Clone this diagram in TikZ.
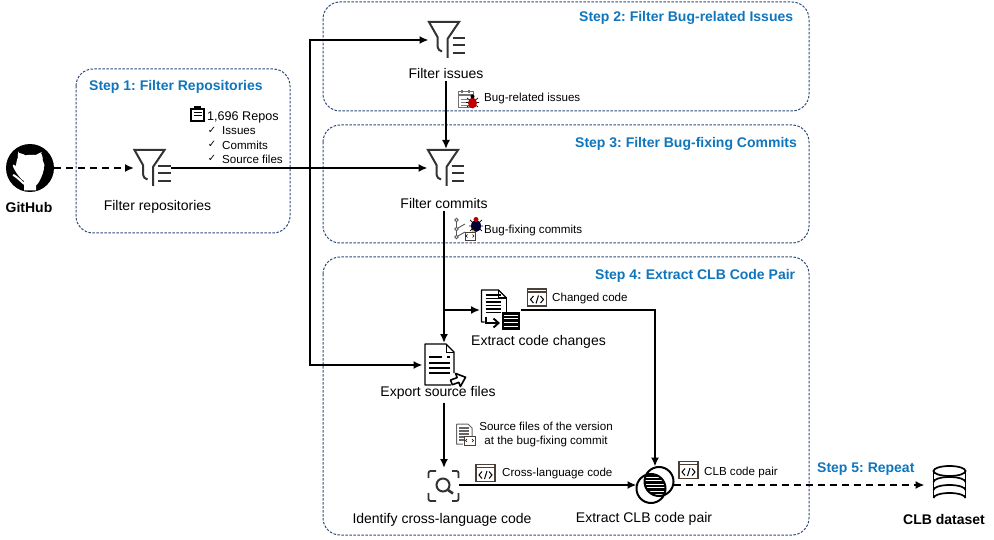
\documentclass[tikz,border=0pt]{standalone}
\usepackage{fontspec}
\setmainfont{Liberation Sans}
\newfontfamily\symfont{DejaVu Sans}
\usetikzlibrary{arrows.meta}
\definecolor{stepblue}{HTML}{0F75BD}
\definecolor{panelblue}{HTML}{2F4B7C}
\definecolor{icongray}{HTML}{333333}
\definecolor{codebrown}{HTML}{4A4038}
\frenchspacing
\tikzset{
	panel/.style={draw=panelblue, line width=1pt, dash pattern=on 2.5pt off 1.5pt, rounded corners=17pt},
	steptitle/.style={text=stepblue, font=\fontsize{14}{16}\selectfont\bfseries, inner sep=0pt, anchor=west},
	biglabel/.style={font=\fontsize{14}{16}\selectfont, inner sep=0pt, outer sep=3pt},
	smalllabel/.style={font=\fontsize{11.6}{14}\selectfont, inner sep=0pt, anchor=west, align=center},
	boldlabel/.style={font=\fontsize{14}{16}\selectfont\bfseries, inner sep=0pt},
	iconbox/.style={inner sep=0pt, outer sep=0pt},
	flow/.style={draw=black, line width=1.7pt, -{Latex[length=9pt,width=8pt]}},
	dashflow/.style={flow, dash pattern=on 7pt off 5pt},
	pics/filtericon/.style={code={
		\draw[icongray, line width=2pt] (-9.5,7) -- (-9.5,-3) -- (-18,-18) -- (12,-18) -- (0.5,-1) -- (0.5,18);
		\draw[icongray, line width=2pt] (-9.5,7) .. controls (-9.5,9) and (-7,11) .. (-5,11.5);
		\foreach \ly in {-1.5,5,13.5}
			\draw[icongray, line width=2pt] (5.5,\ly) -- (18,\ly);
	}},
	pics/codewindow/.style={code={
		\draw[codebrown, line width=1.1pt] (-9.5,-8.5) rectangle (9.5,8.5);
		\draw[codebrown, line width=1.8pt] (-9.5,-5.5) -- (9.5,-5.5);
		\draw[black, line width=1pt] (-3.5,-1.5) -- (-6.5,2) -- (-3.5,5.5) (-1,6) -- (1.5,-2) (3.5,-1.5) -- (6.5,2) -- (3.5,5.5);
	}},
}
\begin{document}
\begin{tikzpicture}[x=1pt, y=-1pt]
	\useasboundingbox (0,0) rectangle (994,540);

	% panels
	\draw[panel] (76,69) rectangle (290,233);
	\draw[panel] (323,2) rectangle (809,111);
	\draw[panel] (323,125) rectangle (809,243);
	\draw[panel] (323,257) rectangle (809,535);

	\node[steptitle] (titleone) at (89,87) {Step 1: Filter Repositories};
	\node[steptitle] (titletwo) at (579,18) {Step 2: Filter Bug-related Issues};
	\node[steptitle] (titlethree) at (575,144) {Step 3: Filter Bug-fixing Commits};
	\node[steptitle] (titlefour) at (595,276) {Step 4: Extract CLB Code Pair};
	\node[steptitle] (titlefive) at (817,469) {Step 5: Repeat};

	% icon boxes, the connectors end on these
	\node[circle, fill=black, minimum size=48pt, iconbox] (github) at (30,168) {};
	\node[iconbox, minimum width=37pt, minimum height=38pt] (filterone) at (152.5,168) {};
	\node[iconbox, minimum width=37pt, minimum height=38pt] (filtertwo) at (447,40) {};
	\node[iconbox, minimum width=37pt, minimum height=38pt] (filterthree) at (446,168) {};
	\node[iconbox, minimum width=41pt, minimum height=40pt] (changeicon) at (500.5,310) {};
	\node[iconbox, minimum width=43pt, minimum height=44pt] (exporticon) at (444,365) {};
	\node[iconbox, minimum width=29pt, minimum height=34pt] (identifyicon) at (444,485) {};
	\node[iconbox, minimum width=37pt, minimum height=37pt] (mergeicon) at (655,485) {};
	\node[iconbox, minimum width=50pt, minimum height=38pt] (dbicon) at (949.5,485) {};

	% big labels
	\node[boldlabel] (githublabel) at (29,207) {GitHub};
	\node[biglabel] (filteronelabel) at (157.5,207) {Filter repositories};
	\node[biglabel] (filtertwolabel) at (446,73) {Filter issues};
	\node[biglabel] (filterthreelabel) at (444,203) {Filter commits};
	\node[biglabel] (changelabel) at (538.5,342) {Extract code changes};
	\node[biglabel] (exportlabel) at (438,393) {Export source files};
	\node[biglabel] (identifylabel) at (442,520) {Identify cross-language code};
	\node[biglabel] (mergelabel) at (644,519) {Extract CLB code pair};
	\node[boldlabel] (dblabel) at (944,519) {CLB dataset};

	% small labels
	\node[smalllabel, font=\fontsize{12.6}{14}\selectfont] (reposlabel) at (207,117) {1,696 Repos};
	\node[smalllabel] (issueslabel) at (222,131) {Issues};
	\node[smalllabel] (commitslabel) at (222,145) {Commits};
	\node[smalllabel] (sourcelabel) at (222,159) {Source files};
	\foreach \cy/\cname in {130/checkone,144/checktwo,158/checkthree}
		\node[font=\symfont\fontsize{10}{10}\selectfont, inner sep=0pt] (\cname) at (212,\cy) {✓};
	\node[smalllabel] (bugissues) at (484,99) {Bug-related issues};
	\node[smalllabel] (bugcommits) at (484,231) {Bug-fixing commits};
	\node[smalllabel] (changedcode) at (552,299) {Changed code};
	\node[smalllabel, anchor=center] (versionlabel) at (546,435) {Source files of the version\\at the bug-fixing commit};
	\node[smalllabel] (crosscode) at (502,473) {Cross-language code};
	\node[smalllabel] (pairlabel) at (704,472) {CLB code pair};

	% github cat
	\fill[white] (github.center) ++(-6,22.5) -- ++(0,-9.5) .. controls +(-5,-2) and +(-9,-7) .. ++(-8,-15) .. controls +(0,-4) and +(1,-6) .. ++(2,-7) .. controls +(-1,-3) and +(0,-5) .. ++(1,-6) .. controls +(2,0) and +(4,1) .. ++(6,2.5) .. controls +(3,-1) and +(7,-1) .. ++(10,0) .. controls +(2,-1.5) and +(4,-2.5) .. ++(6,-2.5) .. controls +(1,1) and +(2,3) .. ++(1,6) .. controls +(1,1) and +(2,3) .. ++(2,7) .. controls +(1,8) and +(-3,13) .. ++(-8,15) -- ++(0,9.5) -- cycle;
	\draw[white, line width=2pt] (github.center) ++(-17,7) .. controls +(4,1) and +(4,7) .. ++(11,7);

	% filters
	\pic at (filterone.center) {filtericon};
	\pic at (filtertwo.center) {filtericon};
	\pic at (filterthree.center) {filtericon};

	% clipboard
	\draw[black, line width=1.4pt] (191,109) rectangle (204,121);
	\fill[black] (194,106) rectangle (201,110);
	\draw[black, line width=1pt] (193.5,113) -- (201.5,113) (193.5,116) -- (201.5,116);

	% calendar with bug
	\draw[gray!90!black, line width=1pt] (458.5,92) rectangle (473,108);
	\draw[gray!90!black, line width=1.2pt] (458.5,95) -- (473,95) (462,90) -- (462,93) (469,90) -- (469,93);
	\draw[gray, line width=0.9pt] (461,99) -- (468,99) (461,102) -- (468,102) (461,105) -- (468,105);
	\draw[black, line width=0.7pt] (467,98) -- (478,107) (478,98) -- (467,107) (466,102.5) -- (479,102.5);
	\fill[red!75!black] (472.5,103) ellipse (4.5 and 5.5);
	\fill[black] (472.5,96.5) circle (2);

	% commit graph with bug
	\draw[gray!70!black, line width=0.9pt] (456.5,220) circle (1.8) (456.5,229) circle (1.8) (456.5,237) circle (1.8);
	\draw[gray!70!black, line width=0.9pt] (456.5,222) -- (456.5,227) (456.5,231) -- (456.5,235) (458,228) -- (465,224) (458,236) -- (465,232);
	\draw[black, line width=0.7pt] (470,220) -- (482,231) (482,220) -- (470,231) (469,226) -- (483,226);
	\fill[black!80!blue] (476,226) ellipse (5 and 6);
	\fill[red!70!black] (476,219.5) circle (2.5);
	\fill[yellow!80!black] (473,231) circle (1.3);
	\draw[codebrown, fill=white, line width=0.7pt] (465,232) rectangle (475,240);
	\draw[black, line width=0.5pt] (467.5,234.5) -- (466,236) -- (467.5,237.5) (472.5,234.5) -- (474,236) -- (472.5,237.5);

	% code windows
	\pic at (537,297.5) {codewindow};
	\pic at (485.5,473) {codewindow};
	\pic at (688.5,470) {codewindow};

	% change icon
	\begin{scope}[shift={(changeicon.center)}]
		\draw[black, line width=1.3pt, line join=round] (6,-12) -- (-2,-20) -- (-19,-20) -- (-19,12) -- (-16,12);
		\draw[black, line width=1.3pt] (6,-12) -- (6,2) (-2,-20) -- (-2,-12) -- (6,-12);
		\foreach \ly in {-15,-11.5,-8,-4.5,-1,2.5}
			\draw[black, line width=1.4pt] (-15,\ly) -- (0,\ly);
		\fill[black] (1.5,2) rectangle (19.5,20);
		\foreach \ly in {5.5,9,12.5,16}
			\draw[white, line width=1pt] (3.5,\ly) -- (17.5,\ly);
		\draw[black, line width=1.9pt] (-14.5,7) -- (-14.5,13) -- (-3,13);
		\draw[black, line width=1.9pt] (-7,8.5) -- (-2,13) -- (-7,17.5);
	\end{scope}

	% export icon
	\begin{scope}[shift={(exporticon.center)}]
		\draw[black, line width=1.3pt, line join=round] (10,8) -- (10,-13) -- (2,-21) -- (-19,-21) -- (-19,20) -- (7,20);
		\draw[black, line width=1pt] (2,-21) -- (2,-13) -- (10,-13);
		\draw[black, line width=1.4pt] (-15,-8) -- (-2,-8) (3,-8) -- (6,-8) (-15,-2) -- (6,-2) (-15,3) -- (6,3) (-15,8) -- (6,8);
		\draw[black, fill=white, line width=1.6pt, line join=round, rotate around={20:(14,15)}] (7,12.5) -- (14,12.5) -- (14,8) -- (22,15) -- (14,22) -- (14,17.5) -- (7,17.5) -- cycle;
	\end{scope}

	% small source file icon
	\draw[gray!80!black, line width=1pt] (456.5,424) -- (468,424) -- (472,428) -- (472,436) (456.5,424) -- (456.5,444) -- (463,444);
	\foreach \ly in {428,431,434,437,440}
		\draw[gray!80!black, line width=1.1pt] (459,\ly) -- (469,\ly);
	\draw[codebrown, fill=white, line width=0.8pt] (464,436) rectangle (475,445);
	\draw[black, line width=0.5pt] (467,439) -- (465.5,440.5) -- (467,442) (472,439) -- (473.5,440.5) -- (472,442);

	% identify icon
	\begin{scope}[shift={(identifyicon.center)}]
		\draw[icongray, line width=1.8pt, rounded corners=2pt] (-15.5,-7) -- (-15.5,-14) -- (-8,-14) (8,-14) -- (14.5,-14) -- (14.5,-7) (14.5,8) -- (14.5,16) -- (8,16) (-8,16) -- (-15.5,16) -- (-15.5,8);
		\draw[icongray, line width=2pt] (-1,0) circle (6.5);
		\draw[icongray, line width=2.6pt] (4,5) -- (9,8.5);
	\end{scope}

	% merge icon
	\begin{scope}[shift={(mergeicon.center)}]
		\begin{scope}
			\clip (-4,3.5) circle (14.5);
			\clip (4,-3.5) circle (14.5);
			\foreach \ly in {-13,-9.5,...,16}
				\draw[black, line width=2.2pt] (-20,\ly) -- (20,\ly);
		\end{scope}
		\draw[black, line width=2pt] (-4,3.5) circle (14.5);
		\draw[black, line width=2pt] (4,-3.5) circle (14.5);
	\end{scope}

	% database icon
	\begin{scope}[shift={(dbicon.center)}]
		\draw[black, line width=1.7pt] (-16,-14) -- (-16,13) (16,-14) -- (16,13);
		\draw[black, line width=1.7pt] (0,-14) ellipse (16 and 5);
		\draw[black, line width=1.7pt] (-16,-3) arc[start angle=180, end angle=360, x radius=16, y radius=5];
		\draw[black, line width=1.7pt] (-16,5) arc[start angle=180, end angle=360, x radius=16, y radius=5];
		\draw[black, line width=1.7pt] (-16,13) arc[start angle=180, end angle=360, x radius=16, y radius=5];
	\end{scope}

	% connectors
	\coordinate (busjoin) at (filterone.east -| 310,0);
	\coordinate (branchjoin) at (changeicon.west -| filterthreelabel.south);
	\draw[dashflow] (github.east) -- (filterone.west);
	\draw[flow] (filterone.east) -- (filterthree.west);
	\draw[flow] (busjoin) |- (filtertwo.west);
	\draw[flow] (busjoin) |- (exporticon.west);
	\draw[flow] (filtertwolabel.south) -- (filterthree.north);
	\draw[flow] (filterthreelabel.south) -- (exporticon.north);
	\draw[flow] (branchjoin) -- (changeicon.west);
	\draw[flow] (changeicon.east) -| (mergeicon.north);
	\draw[flow] (exportlabel.south -| identifyicon.north) -- (identifyicon.north);
	\draw[flow] (identifyicon.east) -- (mergeicon.west);
	\draw[dashflow] (mergeicon.east) -- (dbicon.west);
\end{tikzpicture}
\end{document}
